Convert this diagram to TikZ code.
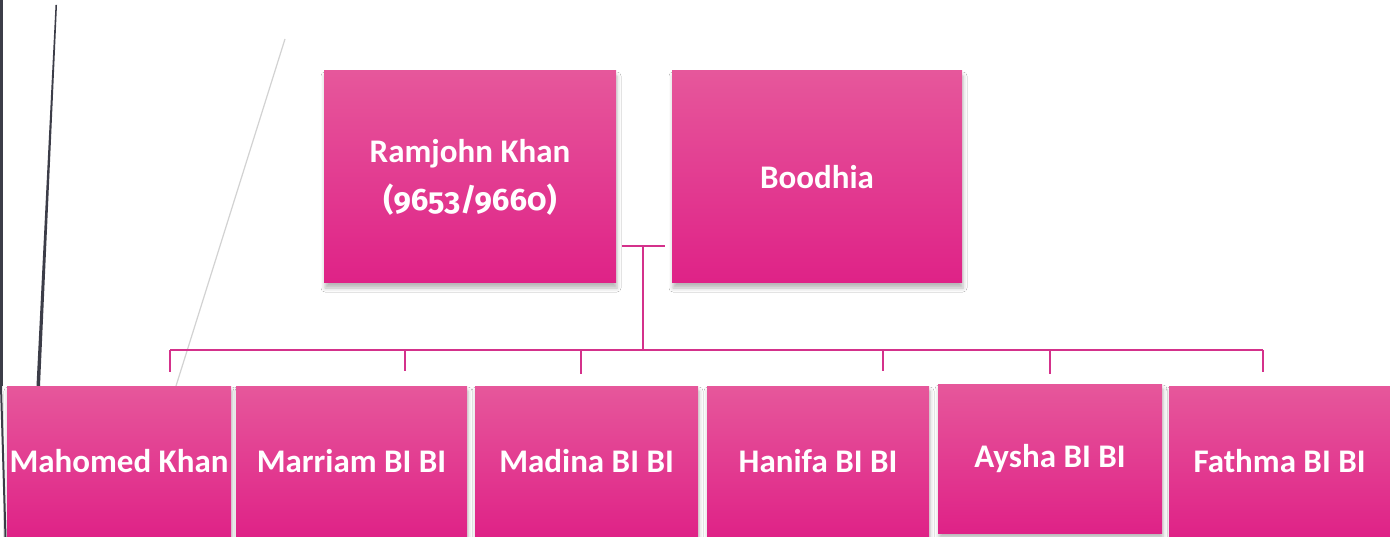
\documentclass[tikz,border=0pt]{standalone}
\usepackage{fontspec}
\setmainfont{Carlito}
\newfontfamily\numfont{Fira Sans}[Numbers=OldStyle]
\usetikzlibrary{shadows.blur}
\definecolor{pinktop}{HTML}{E6579B}
\definecolor{pinkbot}{HTML}{DF2287}
\definecolor{linkpink}{HTML}{D4318B}
\definecolor{deco}{HTML}{3C3D48}
\definecolor{decolight}{HTML}{D2D2D2}
\begin{document}
\begin{tikzpicture}[x=1pt,y=-1pt,
  person/.style={rectangle, inner sep=0pt, outer sep=0pt, top color=pinktop, bottom color=pinkbot,
    text=white, font=\bfseries\fontsize{33}{48}\selectfont, align=center,
    blur shadow={shadow xshift=1pt, shadow yshift=-5pt, shadow blur radius=4pt, shadow opacity=28}},
  link/.style={draw=linkpink, line width=2pt}]
\useasboundingbox[fill=white] (0,0) rectangle (1390,537);
% slide decoration
\fill[deco] (0,0) rectangle (2.5,386);
\fill[deco] (0,386) -- (2,386) -- (6.5,537) -- (4.5,537) -- cycle;
\fill[deco] (55.5,5) -- (57,5) -- (40,386) -- (36.5,386) -- cycle;
\draw[decolight, line width=1.2pt] (285,39) -- (176,386);
% parents
\node[person, minimum width=292pt, minimum height=212pt] (ram) at (470,177) {Ramjohn Khan\\{\numfont\fontsize{31}{48}\selectfont(9653/9660)}};
\node[person, minimum width=290pt, minimum height=212pt] (boo) at (817,177) {Boodhia};
% children
\node[person, minimum width=224pt, minimum height=151pt] (c1) at (119,461.5) {Mahomed Khan};
\node[person, minimum width=231pt, minimum height=151pt] (c2) at (351.5,461.5) {Marriam BI BI};
\node[person, minimum width=223pt, minimum height=151pt] (c3) at (586.5,461.5) {Madina BI BI};
\node[person, minimum width=222pt, minimum height=151pt] (c4) at (818,461.5) {Hanifa BI BI};
\node[person, minimum width=224pt, minimum height=149pt] (c5) at (1050,458.5) {Aysha BI BI};
\node[person, minimum width=221pt, minimum height=151pt] (c6) at (1279.5,461.5) {Fathma BI BI};
% connector points
\coordinate (jl) at (622,246);
\coordinate (jr) at (665,246);
\coordinate (jm) at (643,246);
\coordinate (bm) at (643,350);
\coordinate (b1) at (170,350);
\coordinate (b2) at (405,350);
\coordinate (b3) at (581,350);
\coordinate (b4) at (883,350);
\coordinate (b5) at (1050,350);
\coordinate (b6) at (1263,350);
\coordinate (d1) at (170,372);
\coordinate (d2) at (405,371);
\coordinate (d3) at (581,374);
\coordinate (d4) at (883,371);
\coordinate (d5) at (1050,374);
\coordinate (d6) at (1263,372);
\draw[link] (jl) -- (jr);
\draw[link] (jm) -- (bm);
\draw[link] (b1) -- (b6);
\draw[link] (b1) -- (d1);
\draw[link] (b2) -- (d2);
\draw[link] (b3) -- (d3);
\draw[link] (b4) -- (d4);
\draw[link] (b5) -- (d5);
\draw[link] (b6) -- (d6);
\end{tikzpicture}
\end{document}
